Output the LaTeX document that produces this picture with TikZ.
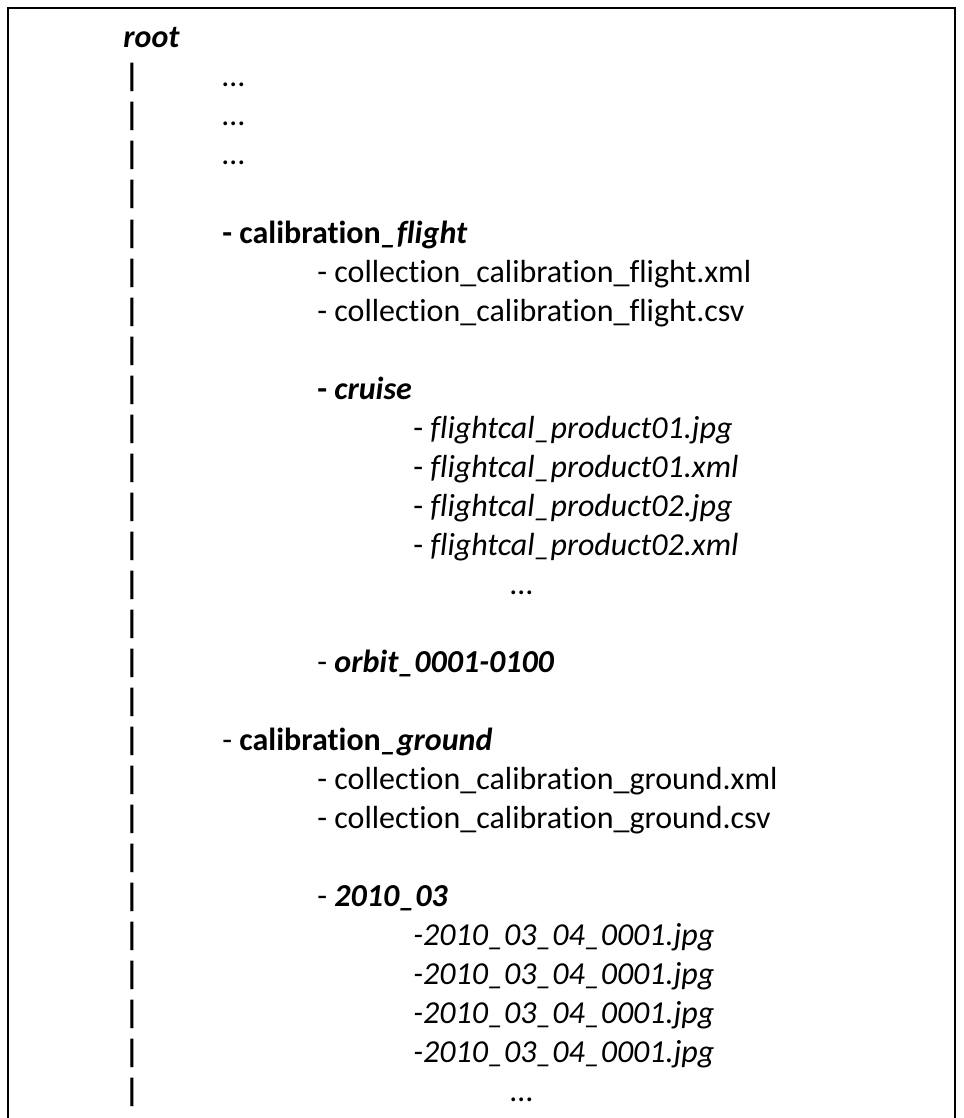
\documentclass[tikz,border=0pt]{standalone}
\usepackage{fontspec}
\setmainfont{Carlito}[Ligatures=NoCommon]
\begin{document}
\begin{tikzpicture}[x=0.5pt,y=-0.5pt,inner sep=0pt]
  \tikzstyle{entry}=[anchor=base west,font=\fontsize{16pt}{19.5pt}\selectfont]
  \tikzstyle{pipe}=[anchor=base,font=\fontsize{16pt}{19.5pt}\selectfont\bfseries]

  \useasboundingbox (0,0) rectangle (963,1118);
  \draw[line width=1.2pt] (8,1118) -- (8,8) -- (955,8) -- (955,1118);

  \node[entry] (root) at (123,48) {\textbf{\textit{root}}};
  \foreach \i in {1,...,27}
    \node[pipe] (bar\i) at (132,{48+39*\i}) {|};

  \node[entry] (dotsA) at (222,87)  {…};
  \node[entry] (dotsB) at (222,126) {…};
  \node[entry] (dotsC) at (222,165) {…};

  % calibration flight
  \node[entry] (calflight) at (222,243) {\textbf{- calibration\textit{\_flight}}};
  \node[entry] (flightxml) at (317,282) {- collection\_calibration\_flight.xml};
  \node[entry] (flightcsv) at (317,321) {- collection\_calibration\_flight.csv};
  \node[entry] (cruise)    at (317,399) {\textbf{- \textit{cruise}}};
  \node[entry] (prodA)     at (413,438) {- \textit{flightcal\_product01.jpg}};
  \node[entry] (prodB)     at (413,477) {- \textit{flightcal\_product01.xml}};
  \node[entry] (prodC)     at (413,516) {- \textit{flightcal\_product02.jpg}};
  \node[entry] (prodD)     at (413,555) {- \textit{flightcal\_product02.xml}};
  \node[entry] (dotsD)     at (510,594) {…};
  \node[entry] (orbit)     at (317,672) {- \textbf{\textit{orbit\_0001-0100}}};

  % calibration ground
  \node[entry] (calground) at (222,750) {- \textbf{calibration\textit{\_ground}}};
  \node[entry] (groundxml) at (317,789) {- collection\_calibration\_ground.xml};
  \node[entry] (groundcsv) at (317,828) {- collection\_calibration\_ground.csv};
  \node[entry] (month)     at (317,906) {- \textbf{\textit{2010\_03}}};
  \node[entry] (imgA)      at (413,945)  {\textit{-2010\_03\_04\_0001.jpg}};
  \node[entry] (imgB)      at (413,984)  {\textit{-2010\_03\_04\_0001.jpg}};
  \node[entry] (imgC)      at (413,1023) {\textit{-2010\_03\_04\_0001.jpg}};
  \node[entry] (imgD)      at (413,1062) {\textit{-2010\_03\_04\_0001.jpg}};
  \node[entry] (dotsE)     at (510,1101) {…};
\end{tikzpicture}
\end{document}
